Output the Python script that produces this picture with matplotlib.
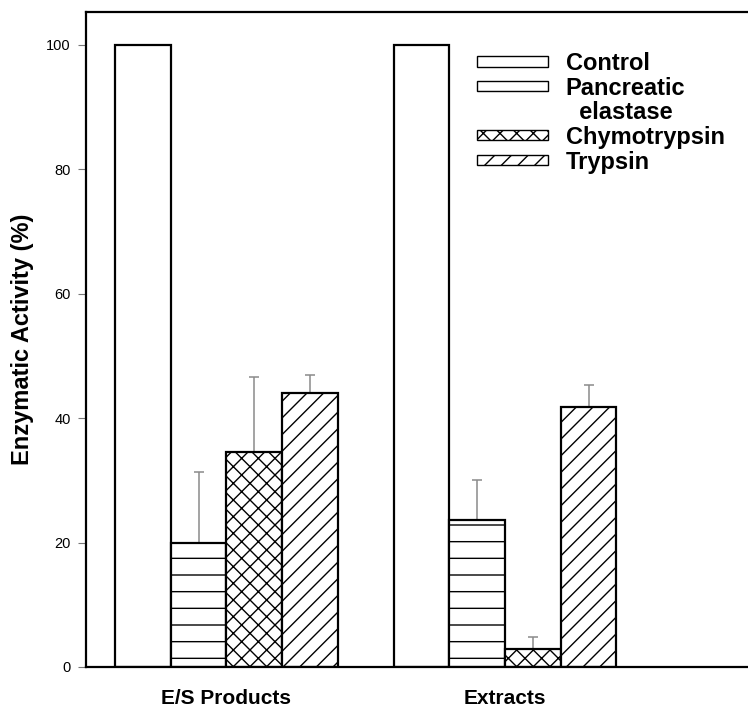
import matplotlib
matplotlib.use("Agg")
import matplotlib.pyplot as plt
from matplotlib.patches import Patch
import numpy as np

plt.rcParams['font.family'] = ['Liberation Sans', 'DejaVu Sans']
plt.rcParams['hatch.linewidth'] = 1.0

groups = ["E/S Products", "Extracts"]
series = ["Control", "Pancreatic\nelastase", "Chymotrypsin", "Trypsin"]
control = [100, 100]
elastase = [20.0, 23.7]
chymotrypsin = [34.6, 2.9]
trypsin = [44.1, 41.8]
elastase_err = [11.3, 6.3]
chymotrypsin_err = [12.0, 1.9]
trypsin_err = [2.9, 3.5]

hatches = ['', '-', 'xx', '//']

fig = plt.figure(figsize=(7.48, 7.11), dpi=100)
ax = fig.add_axes([86/748, 44/711, (764-86)/748, (667-12)/711])

centers = np.array([0.0, 5.0])
offsets = [-1.5, -0.5, 0.5, 1.5]
vals = [control, elastase, chymotrypsin, trypsin]
errs = [None, elastase_err, chymotrypsin_err, trypsin_err]

for v, e, off, h in zip(vals, errs, offsets, hatches):
    x = centers + off
    ax.bar(x, v, width=1.0, facecolor='white', edgecolor='black',
           linewidth=1.6, hatch=h, zorder=2)
    if e is not None:
        ax.errorbar(x, v, yerr=[np.zeros(len(e)), e], fmt='none',
                    ecolor='#8a8a8a', elinewidth=1.1, capsize=3.5,
                    capthick=1.1, zorder=1)

ax.set_xlim(-2.52, 9.65)
ax.set_ylim(0, 105.3)
ax.set_yticks([0, 20, 40, 60, 80, 100])
ax.tick_params(axis='y', length=6, width=0.8, color='#777777',
               labelsize=10.5, pad=5)
ax.set_xticks(centers)
ax.set_xticklabels(groups, fontsize=15, fontweight='bold')
ax.tick_params(axis='x', length=0, pad=16)
ax.set_ylabel("Enzymatic Activity (%)", fontsize=17, fontweight='bold',
              labelpad=9)

for s in ['left', 'top', 'bottom']:
    ax.spines[s].set_linewidth(1.6)
ax.spines['right'].set_visible(False)

handles = [Patch(facecolor='white', edgecolor='black', hatch=''),
           Patch(facecolor='white', edgecolor='black', hatch='-'),
           Patch(facecolor='none', edgecolor='none'),
           Patch(facecolor='white', edgecolor='black', hatch='xx'),
           Patch(facecolor='white', edgecolor='black', hatch='//')]
labels = ["Control", "Pancreatic", "  elastase", "Chymotrypsin", "Trypsin"]
leg = fig.legend(handles, labels, loc='upper left',
                 bbox_to_anchor=(477/748, 1 - 52/711),
                 bbox_transform=fig.transFigure, frameon=False,
                 prop={'size': 17, 'weight': 'bold'},
                 handlelength=3.0, handleheight=0.28, handletextpad=0.75,
                 labelspacing=0.07, borderpad=0, borderaxespad=0)

fig.savefig("out.png", dpi=100)
